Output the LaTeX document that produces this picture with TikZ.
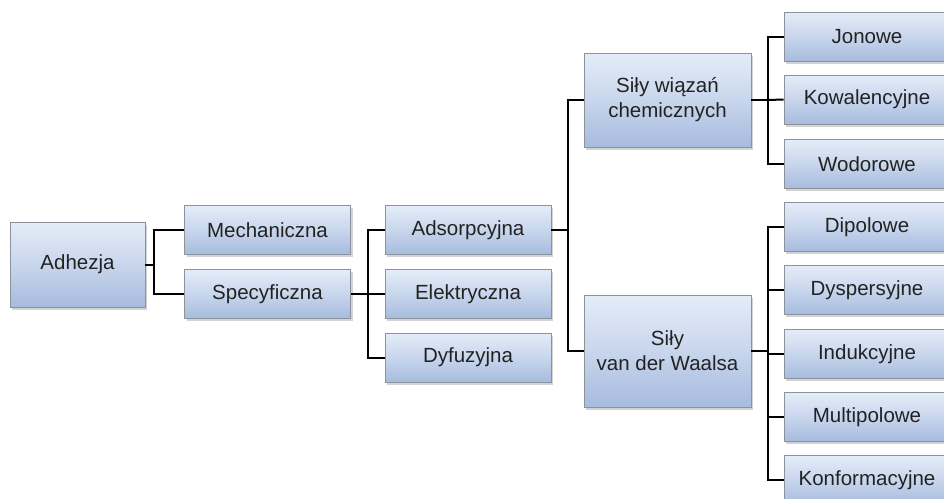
\documentclass[tikz,border=0pt]{standalone}
\usepackage{fontspec}
\setmainfont{Liberation Sans}
\usetikzlibrary{shadows}
\definecolor{boxtop}{HTML}{E4ECF8}
\definecolor{boxbot}{HTML}{A6BBDE}
\definecolor{boxedge}{HTML}{8C929C}
\definecolor{txt}{HTML}{222222}
\begin{document}
\begin{tikzpicture}[x=1pt,y=-1pt,
  box/.style={draw=boxedge, line width=0.8pt, top color=boxtop, bottom color=boxbot,
    middle color=boxtop!55!boxbot,
    drop shadow={shadow xshift=2pt, shadow yshift=-2.5pt, opacity=0.35},
    minimum width=166pt, minimum height=49pt, inner sep=2pt, align=center,
    text=txt, font=\fontsize{20.5}{25}\selectfont},
  conn/.style={line width=2pt, black}]
\useasboundingbox (0,0) rectangle (944,498);
\node[box, minimum width=135pt, minimum height=85pt] (adh) at (77.5,264.5) {Adhezja};
\node[box] (mech) at (267.5,230) {Mechaniczna};
\node[box] (spec) at (267.5,294) {Specyficzna};
\node[box] (ads) at (468,230) {Adsorpcyjna};
\node[box] (ele) at (468,294) {Elektryczna};
\node[box] (dyf) at (468,357.5) {Dyfuzyjna};
\node[box, minimum width=167pt, minimum height=94pt] (swc) at (667.5,100) {Siły wiązań\\chemicznych};
\node[box, minimum width=167pt, minimum height=112pt] (svw) at (667.5,351) {Siły\\van der Waalsa};
\node[box] (jon) at (867,36.5) {Jonowe};
\node[box] (kow) at (867,99.5) {Kowalencyjne};
\node[box] (wod) at (867,164) {Wodorowe};
\node[box] (dip) at (867,227) {Dipolowe};
\node[box] (dys) at (867,290) {Dyspersyjne};
\node[box] (ind) at (867,354) {Indukcyjne};
\node[box] (mul) at (867,417) {Multipolowe};
\node[box] (kon) at (867,480) {Konformacyjne};
% bracket points
\coordinate (b1) at (154,264.5);
\coordinate (b2) at (368,294);
\coordinate (b3) at (568,230);
\coordinate (b4) at (768,100);
\coordinate (b5) at (768,351);
\draw[conn] (adh.east) -- (b1);
\draw[conn] (mech.west) -| (b1) |- (spec.west);
\draw[conn] (spec.east) -- (b2);
\draw[conn] (ads.west) -| (b2) |- (dyf.west);
\draw[conn] (b2) -- (ele.west);
\draw[conn] (ads.east) -- (b3);
\draw[conn] (swc.west) -| (b3) |- (svw.west);
\draw[conn] (swc.east) -- (b4);
\draw[conn] (jon.west) -| (b4) |- (wod.west);
\draw[conn] (b4) -- (kow.west);
\draw[conn] (svw.east) -- (b5);
\draw[conn] (dip.west) -| (b5) |- (kon.west);
\draw[conn] (dys.west) -| (b5);
\draw[conn] (ind.west) -| (b5);
\draw[conn] (mul.west) -| (b5);
\end{tikzpicture}
\end{document}
